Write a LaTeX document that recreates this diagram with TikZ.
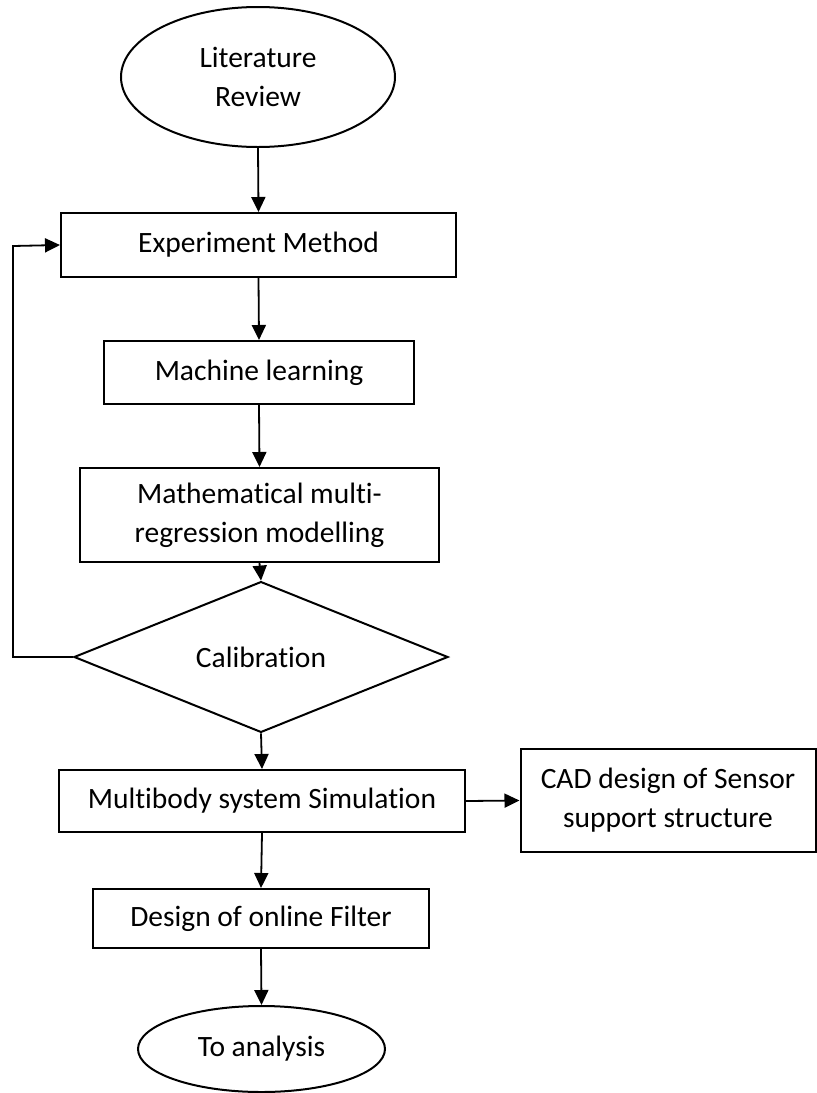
\documentclass[tikz,border=0pt]{standalone}
\usepackage{fontspec}
\setmainfont{Carlito}[RawFeature=-liga]
\usetikzlibrary{shapes.geometric,arrows.meta}
\tikzset{
  base/.style={draw, line width=2pt, inner sep=0pt, align=center,
    font=\fontsize{29.5}{39}\selectfont},
  procbox/.style={base, rectangle},
  terminal/.style={base, ellipse},
  decision/.style={base, diamond},
  flow/.style={line width=1.8pt, -{Triangle[length=15pt,width=14pt]}}
}
\begin{document}
\begin{tikzpicture}[x=1pt,y=-1pt]
\useasboundingbox (0,0) rectangle (817,1093);

\node[terminal, minimum width=274pt, minimum height=140pt] (lit) at (258,77) {Literature\\Review};
\node[procbox, minimum width=395pt, minimum height=64pt] (exp) at (258.5,245) {Experiment Method};
\node[procbox, minimum width=310pt, minimum height=63pt] (ml) at (259,372.5) {Machine learning};
\node[procbox, minimum width=359pt, minimum height=94pt] (math) at (259.5,515) {Mathematical multi-\\regression modelling};
\node[decision, minimum width=374pt, minimum height=114pt] (cal) at (261,657) {Calibration};
\node[procbox, minimum width=406pt, minimum height=62pt] (mb) at (262,801) {Multibody system Simulation};
\node[procbox, minimum width=295pt, minimum height=103pt] (cad) at (668,800.5) {CAD design of Sensor\\support structure};
\node[procbox, minimum width=336pt, minimum height=59pt] (filt) at (261,918.5) {Design of online Filter};
\node[terminal, minimum width=247pt, minimum height=86pt] (ana) at (261.5,1049) {To analysis};

\coordinate (fbBottom) at (13,657);
\coordinate (fbTop) at (13,246);

\draw[flow] (lit.south) -- (exp.north);
\draw[flow] (exp.south) -- (ml.north);
\draw[flow] (ml.south) -- (math.north);
\draw[flow] (math.south) -- (cal.north);
\draw[flow] (cal.south) -- (mb.north);
\draw[flow] (mb.south) -- (filt.north);
\draw[flow] (filt.south) -- (ana.north);
\draw[flow] (mb.east) -- (cad.west);
\draw[flow] (cal.west) -- (fbBottom) -- (fbTop) -- (exp.west);
\end{tikzpicture}
\end{document}
